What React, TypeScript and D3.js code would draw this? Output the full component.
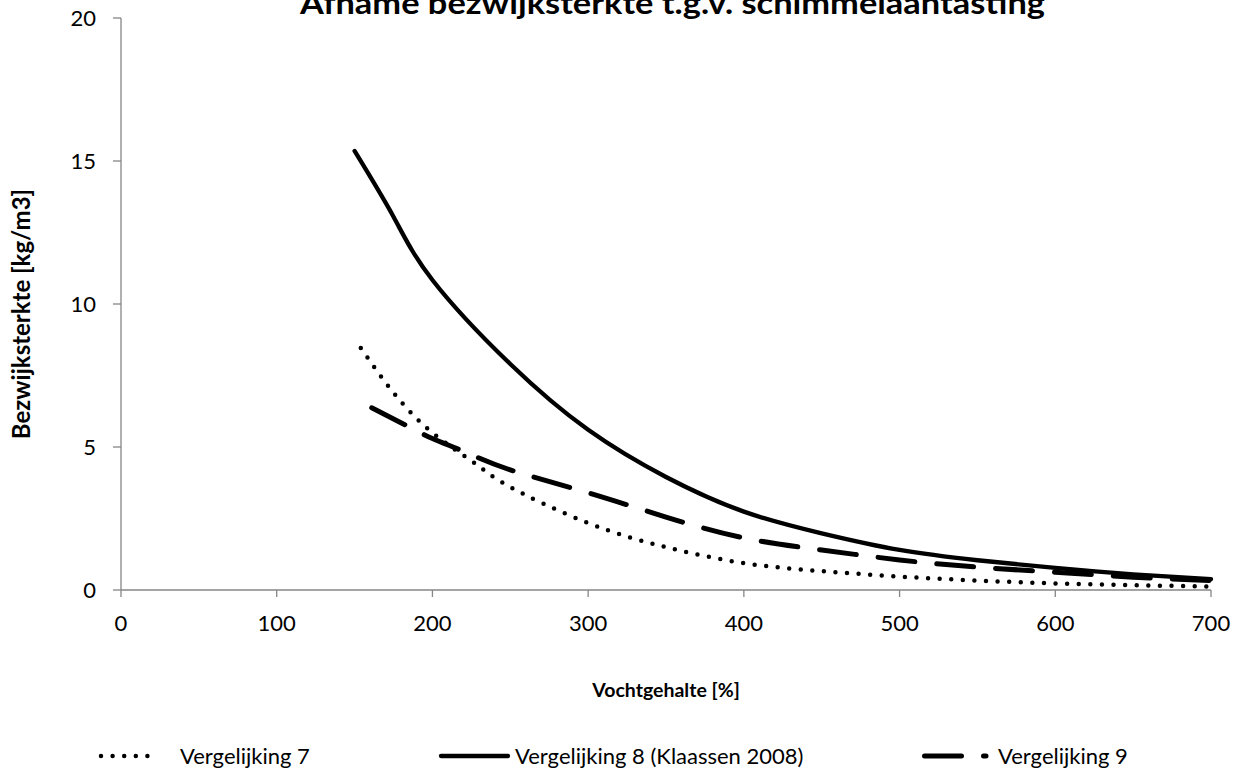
import React from "react";
import * as d3 from "d3";

const titleText = "Afname bezwijksterkte t.g.v. schimmelaantasting";
const xTitle = "Vochtgehalte [%]";
const yTitle = "Bezwijksterkte [kg/m3]";
const xTicks = [0, 100, 200, 300, 400, 500, 600, 700];
const yTicks = [0, 5, 10, 15, 20];

const x7 = [154, 175, 200, 228, 250, 300, 350, 400, 450, 500, 550, 600, 650, 700];
const y7 = [8.46, 6.9, 5.5, 4.4, 3.6, 2.34, 1.5, 0.94, 0.66, 0.47, 0.33, 0.23, 0.17, 0.12];

const x8 = [150, 175, 200, 250, 300, 350, 400, 450, 500, 550, 600, 650, 700];
const y8 = [15.35, 13.05, 10.84, 7.9, 5.6, 3.95, 2.74, 1.98, 1.4, 1.04, 0.77, 0.55, 0.38];

const x9 = [161, 184, 200, 222, 250, 300, 350, 400, 450, 500, 550, 600, 650, 700];
const y9 = [6.37, 5.73, 5.3, 4.8, 4.2, 3.4, 2.55, 1.82, 1.4, 1.05, 0.8, 0.62, 0.45, 0.33];

const seriesNames = ["Vergelijking 7", "Vergelijking 8 (Klaassen 2008)", "Vergelijking 9"];

const FONT = "Lato, 'Open Sans', sans-serif";
const AXIS = "#868686";

export default function App() {
  const W = 1235, H = 771;
  const left = 121, right = 1211, top = 18, bottom = 590;
  const xs = d3.scaleLinear().domain([0, 700]).range([left, right]);
  const ys = d3.scaleLinear().domain([0, 20]).range([bottom, top]);
  const line = d3
    .line<[number, number]>()
    .x((d) => xs(d[0]))
    .y((d) => ys(d[1]))
    .curve(d3.curveNatural);
  const zip = (a: number[], b: number[]) => a.map((v, i) => [v, b[i]] as [number, number]);

  const styles = [
    { stroke: "#000", strokeWidth: 4.5, strokeDasharray: "0 11.6", strokeLinecap: "round" as const },
    { stroke: "#000", strokeWidth: 4.3, strokeDasharray: undefined, strokeLinecap: "round" as const },
    { stroke: "#000", strokeWidth: 5, strokeDasharray: "37 22", strokeLinecap: "round" as const },
  ];
  const data = [zip(x7, y7), zip(x8, y8), zip(x9, y9)];

  const legend = [
    { x1: 101, x2: 159, tx: 180 },
    { x1: 441, x2: 508, tx: 515 },
    { x1: 924.5, x2: 986, tx: 998 },
  ];
  const legY = 756;

  return (
    <svg
      width={W}
      height={H}
      style={{ position: "absolute", left: 0, top: 0, background: "#fff" }}
      fontFamily={FONT}
    >
      <rect x={0} y={0} width={W} height={H} fill="#fff" />
      <text
        x={300}
        y={14}
        fontSize={31}
        fontWeight="bold"
        fill="#000"
        textLength={745}
        lengthAdjust="spacingAndGlyphs"
      >
        {titleText}
      </text>
      {/* axes */}
      <line x1={left} x2={left} y1={top} y2={bottom} stroke={AXIS} strokeWidth={1.3} />
      <line x1={left} x2={right} y1={bottom} y2={bottom} stroke={AXIS} strokeWidth={1.3} />
      {yTicks.map((t) => (
        <g key={"y" + t}>
          <line x1={left - 8} x2={left} y1={ys(t)} y2={ys(t)} stroke={AXIS} strokeWidth={1.3} />
          <text x={96} y={ys(t)} dy="0.35em" textAnchor="end" fontSize={22} fill="#000">
            {t}
          </text>
        </g>
      ))}
      {xTicks.map((t) => (
        <g key={"x" + t}>
          <line x1={xs(t)} x2={xs(t)} y1={bottom} y2={bottom + 7} stroke={AXIS} strokeWidth={1.3} />
          <text x={xs(t)} y={623} dy="0.35em" textAnchor="middle" fontSize={22} fill="#000">
            {t}
          </text>
        </g>
      ))}
      <text x={666} y={690} dy="0.35em" textAnchor="middle" fontSize={19.5} fontWeight="bold" fill="#000">
        {xTitle}
      </text>
      <text
        transform={`translate(22,314) rotate(-90)`}
        dy="0.35em"
        textAnchor="middle"
        fontSize={24}
        fontWeight="bold"
        fill="#000"
      >
        {yTitle}
      </text>
      {/* series */}
      {data.map((d, i) => (
        <path
          key={"s" + i}
          d={line(d) || ""}
          fill="none"
          stroke={styles[i].stroke}
          strokeWidth={styles[i].strokeWidth}
          strokeDasharray={styles[i].strokeDasharray}
          strokeLinecap={styles[i].strokeLinecap}
        />
      ))}
      {/* legend */}
      {legend.map((l, i) => (
        <g key={"l" + i}>
          <line
            x1={l.x1}
            x2={l.x2}
            y1={legY}
            y2={legY}
            stroke={styles[i].stroke}
            strokeWidth={styles[i].strokeWidth}
            strokeDasharray={styles[i].strokeDasharray}
            strokeLinecap={styles[i].strokeLinecap}
          />
          <text x={l.tx} y={legY} dy="0.35em" fontSize={22} fill="#000">
            {seriesNames[i]}
          </text>
        </g>
      ))}
    </svg>
  );
}
